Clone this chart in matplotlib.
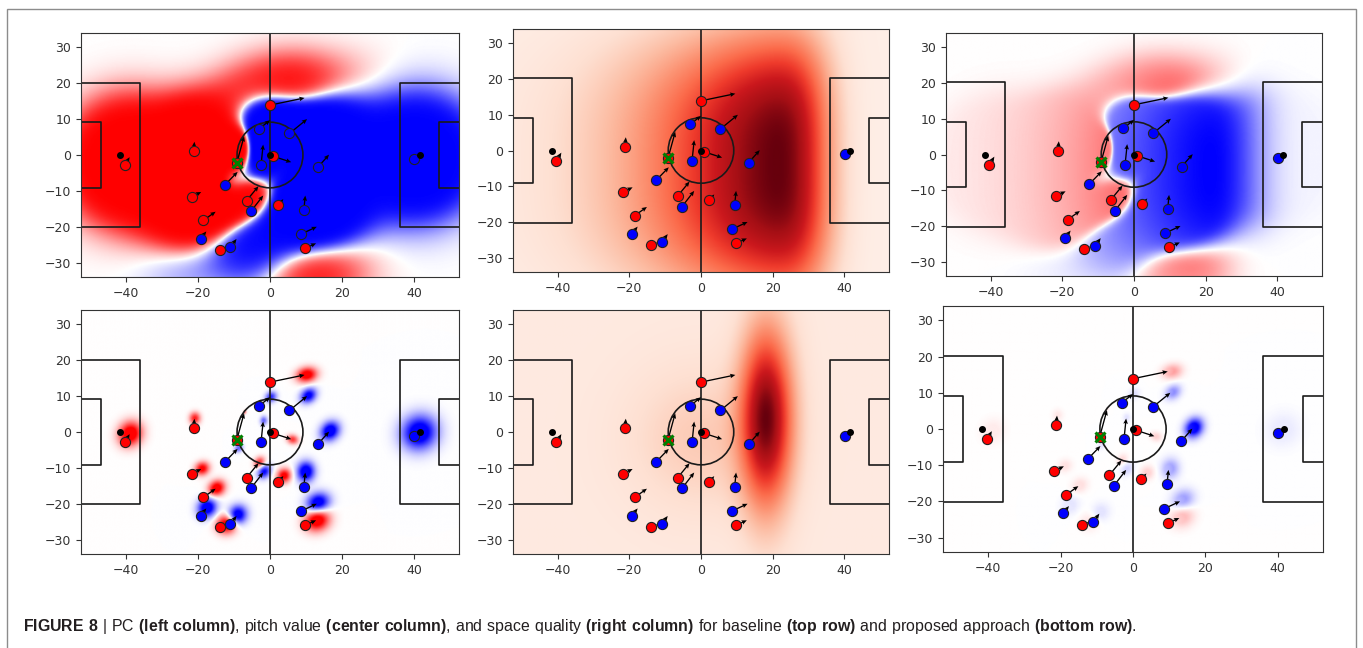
import numpy as np
import matplotlib
matplotlib.use('Agg')
import matplotlib.pyplot as plt
from matplotlib.patches import Rectangle, Circle

plt.rcParams['font.family'] = 'DejaVu Sans'
plt.rcParams['font.size'] = 8.5
plt.rcParams['mathtext.fontset'] = 'custom'
plt.rcParams['mathtext.rm'] = 'Liberation Sans'
plt.rcParams['mathtext.bf'] = 'Liberation Sans:bold'

# players (position and velocity arrow, pitch units)
red_x = [0.0, -40.4, -21.2, -21.8, -18.5, -14.0, -6.5, 0.7, 2.3, 9.8, -9.2]
red_y = [13.9, -2.9, 1.0, -11.7, -18.2, -26.4, -12.7, -0.3, -13.9, -26.0, -2.1]
red_vx = [9.6, 1.4, 0.2, 2.7, 3.4, 1.8, 3.3, 5.2, 1.4, 3.0, 2.0]
red_vy = [2.0, 2.3, 2.7, 1.4, 2.4, 0.6, 4.0, -1.7, 1.6, 1.4, 7.3]

blue_x = [-3.0, 5.4, -2.5, -12.5, -5.3, 13.3, 9.4, 8.7, -19.3, -11.0, 40.1]
blue_y = [7.3, 6.0, -2.9, -8.3, -15.7, -3.4, -15.3, -22.0, -23.3, -25.7, -1.1]
blue_vx = [3.0, 4.9, 0.6, 3.5, 3.4, 3.1, 0.4, 4.3, 1.6, 1.7, 1.2]
blue_vy = [2.4, 4.0, 5.8, 3.6, 4.4, 3.5, 4.0, 2.0, 2.0, 2.3, 0.9]

ball = (-9.2, -2.1)
dot_x = [-41.7, 0.0, 41.7]
dot_y = [0.0, 0.0, 0.0]

# pitch value surfaces: centre, spreads, levels
val_base_centre = (21.0, -4.0)
val_base_sx = (23.4, 11.0)   # left / right of centre
val_base_sy = 28.7
val_prop_core = (18.3, 4.0, 5.0, 17.0)   # x, y, sx, sy
val_prop_halo = (0.0, -2.0, 14.0)

caption = [("FIGURE 8", True), (" | ", False), ("PC ", False), ("(left column)", True),
           (", pitch value ", False), ("(center column)", True),
           (", and space quality ", False), ("(right column)", True),
           (" for baseline ", False), ("(top row)", True),
           (" and proposed approach ", False), ("(bottom row)", True), (".", False)]

gx = np.linspace(-52.5, 52.5, 421)
gy = np.linspace(-34, 34, 273)
XX, YY = np.meshgrid(gx, gy)


def ellipse_gauss(mx, my, vx, vy, s_al, s_pe):
    th = np.arctan2(vy, vx)
    dx, dy = XX - mx, YY - my
    a = dx * np.cos(th) + dy * np.sin(th)
    b = -dx * np.sin(th) + dy * np.cos(th)
    return np.exp(-0.5 * ((a / s_al) ** 2 + (b / s_pe) ** 2))


def baseline_influence(xs, ys, vxs, vys):
    tot = np.zeros_like(XX)
    for x, y, vx, vy in zip(xs, ys, vxs, vys):
        d = np.hypot(x - ball[0], y - ball[1])
        R = min(4 + d ** 3 / (18 ** 3 / 10), 9.4)
        srat = min((np.hypot(vx, vy) / 20) ** 2, 0.6)
        tot += ellipse_gauss(x + 0.5 * vx, y + 0.5 * vy, vx, vy,
                             R * (1 + srat), R * (1 - srat))
    return tot


def proposed_influence(xs, ys, vxs, vys):
    tot = np.zeros_like(XX)
    for x, y, vx, vy in zip(xs, ys, vxs, vys):
        d = np.hypot(x - ball[0], y - ball[1])
        sig = 0.3 + 0.06 * d
        sp = np.hypot(vx, vy)
        amp = np.clip(sig / 1.5, 0.4, 1)
        tot += amp * ellipse_gauss(x + 1.05 * vx, y + 1.05 * vy, vx + 1e-9, vy,
                                   sig * (1 + 0.04 * sp), sig)
    return tot


pc_base = 1 / (1 + np.exp(-11 * (baseline_influence(red_x, red_y, red_vx, red_vy)
                                  - baseline_influence(blue_x, blue_y, blue_vx, blue_vy))))
pc_base = 2 * pc_base - 1
pc_prop = np.clip(1.3 * (proposed_influence(red_x, red_y, red_vx, red_vy)
                         - proposed_influence(blue_x, blue_y, blue_vx, blue_vy)), -1, 1)

cx, cy = val_base_centre
dxn = np.where(XX < cx, (cx - XX) / val_base_sx[0], (XX - cx) / val_base_sx[1])
pw = np.where(XX < cx, 1.6, 2.5)
val_base = 0.04 + 0.93 * np.exp(-0.5 * dxn ** pw - 0.5 * (np.abs(YY - cy) / val_base_sy) ** 3)

kx, ky, ksx, ksy = val_prop_core
hx, hy, hs = val_prop_halo
val_prop = (0.07 + 0.13 * np.exp(-((XX - hx) ** 2 + (YY - hy) ** 2) / (2 * hs ** 2))
            + 0.9 * np.exp(-0.5 * ((XX - kx) / ksx) ** 2 - 0.5 * ((YY - ky) / ksy) ** 2))

sq_base = pc_base * val_base
sq_prop = pc_prop * val_prop


def draw_pitch(ax, field, cmap, vmin, vmax):
    ax.imshow(field, extent=(-52.5, 52.5, -34, 34), origin='lower', cmap=cmap,
              vmin=vmin, vmax=vmax, interpolation='bilinear', aspect='auto', zorder=0)
    lc = dict(color='#1a1a1a', lw=1.2, zorder=2)
    ax.plot([0, 0], [-34, 34], **lc)
    for s in (-1, 1):
        ax.plot([s * 52.5, s * 36, s * 36, s * 52.5], [20.16, 20.16, -20.16, -20.16], **lc)
        ax.plot([s * 52.5, s * 47, s * 47, s * 52.5], [9.16, 9.16, -9.16, -9.16], **lc)
    ax.add_patch(Circle((0, 0), 9.15, fill=False, ec='#1a1a1a', lw=1.2, zorder=2))
    ax.quiver(red_x, red_y, red_vx, red_vy, angles='xy', scale_units='xy', scale=1,
              width=0.0035, headwidth=3.5, headlength=4, headaxislength=3.5, color='k', zorder=3)
    ax.quiver(blue_x, blue_y, blue_vx, blue_vy, angles='xy', scale_units='xy', scale=1,
              width=0.0035, headwidth=3.5, headlength=4, headaxislength=3.5, color='k', zorder=3)
    ax.plot(red_x, red_y, 'o', ms=7.3, mfc='red', mec='#222', mew=0.8, zorder=4)
    ax.plot(blue_x, blue_y, 'o', ms=7.3, mfc='blue', mec='#222', mew=0.8, zorder=4)
    ax.plot(dot_x, dot_y, 'o', ms=4, color='k', zorder=5)
    ax.plot([ball[0]], [ball[1]], 'x', ms=7, mew=2.2, color='green', zorder=6)
    ax.set_xlim(-52.5, 52.5)
    ax.set_ylim(-34, 34)
    ax.set_xticks([-40, -20, 0, 20, 40])
    ax.set_yticks([-30, -20, -10, 0, 10, 20, 30])
    ax.tick_params(colors='#333333', labelsize=9, length=3.5)
    for sp in ax.spines.values():
        sp.set_color('#333333')


fig = plt.figure(figsize=(13.63, 6.48), dpi=100)
W, H = 1363, 648
boxes = [(81, 33, 459, 277), (513, 29, 889, 272), (946, 33, 1322, 276),
         (81, 310, 459, 554), (513, 310, 889, 554), (943, 306, 1323, 552)]
fields = [(pc_base, 'bwr', -1, 1), (val_base, 'Reds', 0, val_base.max()),
          (sq_base, 'bwr', -np.abs(sq_base).max(), np.abs(sq_base).max()),
          (pc_prop, 'bwr', -1, 1), (val_prop, 'Reds', 0, val_prop.max()),
          (sq_prop, 'bwr', -1, 1)]
for (l, t, r, b), (f, cm, lo, hi) in zip(boxes, fields):
    ax = fig.add_axes([l / W, 1 - b / H, (r - l) / W, (b - t) / H])
    draw_pitch(ax, f, cm, lo, hi)

fig.patches.append(Rectangle((7 / W, -0.02), (1356 - 7) / W, 1.02 - 9 / H, transform=fig.transFigure,
                             fill=False, ec='#8c8c8c', lw=1))

# caption as one mathtext line so bold and regular pieces share one layout
parts = []
for txt, bold in caption:
    esc = txt.replace(' ', r'\ ').replace(',', '{,}')
    parts.append(r'\mathbf{' + esc + '}' if bold else r'\mathrm{' + esc + '}')
fig.text(23 / W, 1 - 627 / H, '$' + ''.join(parts) + '$', fontsize=11.4,
         color='#231f20', va='center', ha='left')

fig.savefig('out.png', dpi=100)
